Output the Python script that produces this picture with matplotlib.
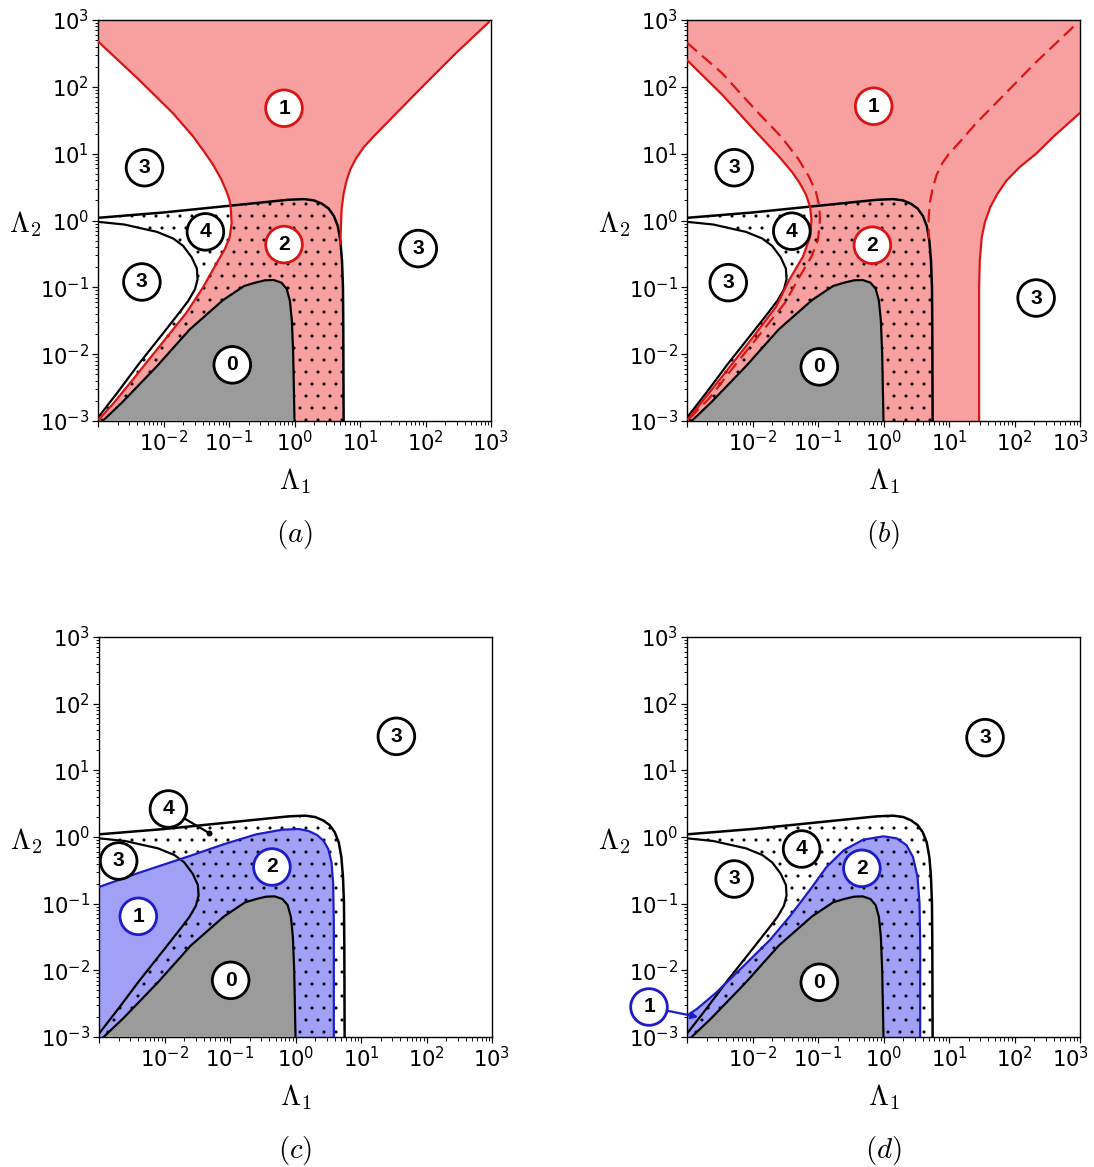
import numpy as np
import matplotlib
matplotlib.use('Agg')
import matplotlib.pyplot as plt
from matplotlib.ticker import LogLocator, NullFormatter
from matplotlib.transforms import ScaledTranslation

plt.rcParams['hatch.linewidth'] = 0.6

# all curve data are log10 values of (Lambda1, Lambda2)
gray_u = [-2.93, -2.63, -2.10, -1.60, -1.09, -0.77, -0.60, -0.45, -0.32, -0.20, -0.12, -0.07, -0.04, -0.02, -0.01, 0.0]
gray_v = [-3.0, -2.72, -2.18, -1.63, -1.19, -0.98, -0.93, -0.895, -0.89, -0.93, -1.02, -1.20, -1.50, -2.0, -2.5, -3.0]

outer_u = [-3.0, -2.5, -2.0, -1.5, -1.0, -0.5, -0.1, 0.15, 0.3, 0.42, 0.52, 0.6, 0.66, 0.70, 0.725, 0.74, 0.745, 0.75]
outer_v = [0.04, 0.08, 0.12, 0.17, 0.22, 0.27, 0.31, 0.32, 0.30, 0.25, 0.18, 0.07, -0.08, -0.3, -0.6, -1.0, -1.6, -3.0]

nose_u = [-3.0, -2.6, -2.1, -1.85, -1.7, -1.57, -1.49, -1.48, -1.52, -1.62, -1.76, -2.0, -2.38, -2.7, -3.0]
nose_v = [-0.02, -0.06, -0.17, -0.27, -0.38, -0.55, -0.72, -0.88, -1.03, -1.2, -1.38, -1.68, -2.15, -2.57, -2.95]

# panel (a) red boundaries
redA_left_u = [-3.0, -2.4, -1.86, -1.55, -1.38, -1.24, -1.12, -1.04, -0.99, -0.97, -0.96, -0.99, -1.06, -1.19, -1.39, -1.65, -2.10, -2.46, -2.76, -2.98]
redA_left_v = [2.68, 2.13, 1.61, 1.26, 1.03, 0.83, 0.62, 0.44, 0.30, 0.15, -0.04, -0.25, -0.42, -0.64, -0.99, -1.38, -1.93, -2.37, -2.73, -2.97]
redA_right_u = [2.97, 2.46, 1.92, 1.45, 1.22, 1.06, 0.94, 0.85, 0.79, 0.75, 0.72, 0.71, 0.70]
redA_right_v = [2.97, 2.50, 1.97, 1.50, 1.27, 1.10, 0.93, 0.76, 0.58, 0.40, 0.18, -0.05, -0.35]

# panel (b) red boundaries
redB_left_u = [-3.0, -2.47, -1.93, -1.58, -1.40, -1.28, -1.18, -1.12, -1.10, -1.12, -1.23, -1.44, -1.64, -2.02, -2.38, -2.72, -2.98]
redB_left_v = [2.40, 1.89, 1.31, 0.94, 0.73, 0.56, 0.38, 0.20, 0.01, -0.24, -0.54, -0.89, -1.29, -1.78, -2.23, -2.65, -2.97]
redB_dash_u = [-3.0, -2.47, -1.93, -1.55, -1.30, -1.14, -1.03, -0.98, -0.97, -1.0, -1.10, -1.28, -1.51, -1.95, -2.32, -2.65, -2.97]
redB_dash_v = [2.66, 2.21, 1.63, 1.24, 0.92, 0.66, 0.42, 0.22, 0.01, -0.29, -0.54, -0.84, -1.24, -1.78, -2.23, -2.65, -2.97]
redB_rdash_u = [2.90, 2.33, 1.80, 1.40, 1.16, 1.0, 0.90, 0.81, 0.75, 0.71, 0.69, 0.69]
redB_rdash_v = [2.90, 2.37, 1.84, 1.44, 1.17, 1.0, 0.86, 0.68, 0.48, 0.28, 0.05, -0.27]
redB_right_u = [3.0, 2.6, 2.33, 2.08, 1.88, 1.74, 1.63, 1.55, 1.50, 1.47, 1.46, 1.46]
redB_right_v = [1.61, 1.26, 1.0, 0.80, 0.60, 0.40, 0.20, -0.02, -0.25, -0.6, -1.0, -3.0]

# panel (c) and (d) blue boundaries
blueC_u = [-3.0, -2.4, -1.6, -1.1, -0.6, -0.2, 0.05, 0.2, 0.33, 0.43, 0.5, 0.55, 0.575, 0.585, 0.585]
blueC_v = [-0.75, -0.54, -0.28, -0.11, 0.04, 0.11, 0.12, 0.09, 0.03, -0.06, -0.18, -0.38, -0.7, -1.3, -3.0]
blueD_u = [-3.0, -2.85, -2.55, -2.1, -1.73, -1.43, -1.12, -0.87, -0.61, -0.31, 0.0, 0.2, 0.35, 0.45, 0.52, 0.55, 0.56, 0.56]
blueD_v = [-2.68, -2.58, -2.33, -1.9, -1.54, -1.19, -0.79, -0.45, -0.2, -0.04, 0.01, -0.02, -0.12, -0.3, -0.6, -1.0, -1.6, -3.0]

# region labels: (text, log10 L1, log10 L2, ring colour)
labels_a = [('1', -0.16, 1.68, 'r'), ('3', -2.29, 0.79, 'k'), ('4', -1.36, -0.17, 'k'),
            ('2', -0.16, -0.36, 'r'), ('3', 1.89, -0.42, 'k'), ('3', -2.33, -0.92, 'k'), ('0', -0.95, -2.16, 'k')]
labels_b = [('1', -0.15, 1.71, 'r'), ('3', -2.28, 0.79, 'k'), ('4', -1.40, -0.16, 'k'),
            ('2', -0.17, -0.37, 'r'), ('3', 2.33, -1.16, 'k'), ('3', -2.37, -0.93, 'k'), ('0', -0.98, -2.19, 'k')]
labels_c = [('3', 1.54, 1.51, 'k'), ('3', -2.70, -0.36, 'k'), ('2', -0.36, -0.45, 'b'),
            ('1', -2.40, -1.19, 'b'), ('0', -0.99, -2.15, 'k')]
labels_d = [('3', 1.55, 1.49, 'k'), ('4', -1.25, -0.18, 'k'), ('3', -2.28, -0.63, 'k'),
            ('2', -0.33, -0.47, 'b'), ('0', -0.98, -2.18, 'k')]
leader_c = ('4', -1.94, 0.42, -1.32, 0.06)     # label, label pos, pointed position
arrow_d = ('1', -3.58, -2.55, -2.83, -2.70)

PINK = '#f8a0a0'
RED = '#d81414'
BLUE_F = '#a0a0f6'
BLUE = '#1c1cc8'
GRAY = '#9b9b9b'
ring = {'k': 'black', 'r': RED, 'b': BLUE}

W, H = 1094, 1167
fig = plt.figure(figsize=(W/72, H/72), dpi=72)

# axes boxes in pixels: left, right, top, bottom
boxes = {'a': (98, 491, 20, 421), 'b': (687, 1080, 20, 421),
         'c': (99, 492, 637, 1037), 'd': (687, 1080, 637, 1037)}

BADGE = dict(ha='center', va='center', fontsize=21, fontweight='bold',
             family='Liberation Sans', zorder=7)
RING = 'circle,pad=0.42'


def p(vals):
    return np.power(10.0, np.asarray(vals, dtype=float))


def setup(key):
    l, r, t, b = boxes[key]
    ax = fig.add_axes([l/W, 1 - b/H, (r-l)/W, (b-t)/H])
    ax.set_xscale('log'); ax.set_yscale('log')
    ax.set_xlim(1e-3, 1e3); ax.set_ylim(1e-3, 1e3)
    dec = [1e-3, 1e-2, 1e-1, 1e0, 1e1, 1e2, 1e3]
    names = [r'$\mathdefault{10^{%d}}$' % k for k in range(-3, 4)]
    ax.set_xticks(dec, [''] + names[1:])
    ax.set_yticks(dec, names)
    for axis in (ax.xaxis, ax.yaxis):
        axis.set_minor_locator(LogLocator(base=10, subs=np.arange(2, 10), numticks=20))
        axis.set_minor_formatter(NullFormatter())
    ax.tick_params(which='major', direction='out', length=6, width=1.2, labelsize=21, pad=3)
    ax.tick_params(which='minor', direction='out', length=3.5, width=0.9)
    ax.tick_params(which='both', top=False, right=False)
    if r > W - 30:
        # keep the last x label inside the picture
        lab = ax.xaxis.get_major_ticks()[-1].label1
        lab.set_transform(lab.get_transform() + ScaledTranslation(-9/72, 0, fig.dpi_scale_trans))
    for s in ax.spines.values():
        s.set_linewidth(1.4)
    ax.text(0.5, -0.15, r'$\Lambda_1$', transform=ax.transAxes, ha='center', va='center',
            fontsize=29, math_fontfamily='cm')
    ax.text(-0.186, 0.49, r'$\Lambda_2$', transform=ax.transAxes, ha='center', va='center',
            fontsize=29, math_fontfamily='cm')
    ax.text(0.5, -0.284, r'$(%s)$' % key, transform=ax.transAxes, ha='center', va='center',
            fontsize=29, math_fontfamily='cm')
    return ax


def common(ax):
    # dotted zone: inside outer black curve, outside the nose
    hu = outer_u + [-3.0] + nose_u[::-1]
    hv = outer_v + [-3.0] + nose_v[::-1]
    ax.fill(p(hu), p(hv), facecolor='none', edgecolor='black', hatch='.', linewidth=0, zorder=2)
    ax.fill(p(gray_u + [-3.0]), p(gray_v + [-3.0]), color=GRAY, lw=0, zorder=3)
    ax.plot(p(gray_u), p(gray_v), color='black', lw=2.2, zorder=4)
    ax.plot(p(outer_u), p(outer_v), color='black', lw=2.5, zorder=4)
    ax.plot(p(nose_u), p(nose_v), color='black', lw=2.2, zorder=4)


def badges(ax, items):
    for s, u, v, c in items:
        ax.text(10**u, 10**v, s, **BADGE,
                bbox=dict(boxstyle=RING, fc='white', ec=ring[c], lw=2.8))


# (a)
ax = setup('a')
lower = [i for i, v in enumerate(outer_v) if v < redA_right_v[-1]]
pu = [-3.0] + redA_left_u + [-3.0] + [outer_u[i] for i in lower[::-1]] + redA_right_u[::-1] + [3.0]
pv = [3.0] + redA_left_v + [-3.0] + [outer_v[i] for i in lower[::-1]] + redA_right_v[::-1] + [3.0]
ax.fill(p(pu), p(pv), color=PINK, lw=0, zorder=1)
common(ax)
ax.plot(p(redA_left_u), p(redA_left_v), color=RED, lw=2.2, zorder=4)
ax.plot(p(redA_right_u), p(redA_right_v), color=RED, lw=2.2, zorder=4)
badges(ax, labels_a)

# (b)
ax = setup('b')
pu = [-3.0] + redB_left_u + [-3.0] + redB_right_u[::-1] + [3.0]
pv = [3.0] + redB_left_v + [-3.0] + redB_right_v[::-1] + [3.0]
ax.fill(p(pu), p(pv), color=PINK, lw=0, zorder=1)
common(ax)
ax.plot(p(redB_left_u), p(redB_left_v), color=RED, lw=2.2, zorder=4)
ax.plot(p(redB_right_u), p(redB_right_v), color=RED, lw=2.2, zorder=4)
ax.plot(p(redB_dash_u), p(redB_dash_v), color=RED, lw=2.2, ls=(0, (6, 3)), zorder=4)
ax.plot(p(redB_rdash_u), p(redB_rdash_v), color=RED, lw=2.2, ls=(0, (6, 3)), zorder=4)
badges(ax, labels_b)

# (c)
ax = setup('c')
ax.fill(p(blueC_u + [-3.0]), p(blueC_v + [-3.0]), color=BLUE_F, lw=0, zorder=1)
common(ax)
ax.plot(p(blueC_u), p(blueC_v), color=BLUE, lw=2.2, zorder=4)
badges(ax, labels_c)
s, u0, v0, u1, v1 = leader_c
ax.plot(10**u1, 10**v1, 'o', color='black', ms=5, zorder=5)
ax.annotate(s, xy=(10**u1, 10**v1), xytext=(10**u0, 10**v0), **BADGE,
            bbox=dict(boxstyle=RING, fc='white', ec='black', lw=2.8),
            arrowprops=dict(arrowstyle='-', color='black', lw=2.2, shrinkA=0, shrinkB=0))

# (d)
ax = setup('d')
ax.fill(p(blueD_u + [-3.0]), p(blueD_v + [-3.0]), color=BLUE_F, lw=0, zorder=1)
common(ax)
ax.plot(p(blueD_u), p(blueD_v), color=BLUE, lw=2.2, zorder=4)
badges(ax, labels_d)
s, u0, v0, u1, v1 = arrow_d
ax.annotate(s, xy=(10**u1, 10**v1), xytext=(10**u0, 10**v0), **BADGE,
            annotation_clip=False,
            bbox=dict(boxstyle=RING, fc='white', ec=BLUE, lw=2.8),
            arrowprops=dict(arrowstyle='-|>', color=BLUE, lw=2.2, mutation_scale=14,
                            shrinkA=0, shrinkB=0))

fig.savefig('out.png', dpi=72)
